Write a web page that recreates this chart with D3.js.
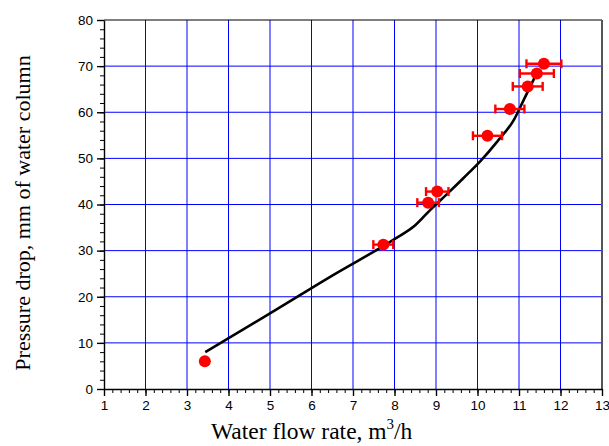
<!DOCTYPE html>
<html>
<head>
  <meta charset="UTF-8">
  <style>
    body { margin: 0; background: #fff; }
    .tick text { font-family: Arial, "Liberation Sans", sans-serif; font-size: 13.5px; fill: #000; }
  </style>
</head>
<body>
  <svg></svg>

<script src="https://d3js.org/d3.v7.min.js"></script>
<script>

    let width = 609;
    let height = 446;

    // measured points (flow rate, pressure drop, x error)
    let flowRate = [3.43, 7.73, 8.81, 9.03, 10.24, 10.78, 11.21, 11.43, 11.60];
    let pressureDrop = [6.0, 31.3, 40.4, 42.8, 54.9, 60.7, 65.6, 68.4, 70.5];
    let flowError = [0, 0.24, 0.26, 0.27, 0.35, 0.35, 0.36, 0.41, 0.42];

    // calculated curve
    let curveX = [3.44, 5.0, 6.5, 8.0, 8.5, 8.87, 9.27, 9.67, 10.07, 10.48, 10.88, 11.12, 11.43];
    let curveY = [8.0, 16.4, 24.6, 32.5, 35.5, 38.9, 42.3, 45.8, 49.4, 53.7, 58.4, 62.8, 68.5];

    let xTicks = [1, 2, 3, 4, 5, 6, 7, 8, 9, 10, 11, 12, 13];
    let yTicks = [0, 10, 20, 30, 40, 50, 60, 70, 80];

    let margin = {left: 104, right: 7, top: 20, bottom: 57};

    let svg = d3.select("svg")
        .attr("width", width)
        .attr("height", height);

    let x = d3.scaleLinear().domain([1, 13]).range([margin.left, width - margin.right]);
    let y = d3.scaleLinear().domain([0, 80]).range([height - margin.bottom, margin.top]);

    // grid
    svg.append("g")
      .selectAll("line")
      .data(xTicks.slice(1, -1))
      .enter()
      .append("line")
        .attr("x1", d => x(d)).attr("x2", d => x(d))
        .attr("y1", y(0)).attr("y2", y(80))
        .attr("stroke", "#0000ff").attr("stroke-width", 1);
    svg.append("g")
      .selectAll("line")
      .data(yTicks.slice(1, -1))
      .enter()
      .append("line")
        .attr("x1", x(1)).attr("x2", x(13))
        .attr("y1", d => y(d)).attr("y2", d => y(d))
        .attr("stroke", "#0000ff").attr("stroke-width", 1);

    // frame top and right
    svg.append("line")
      .attr("x1", x(1)).attr("x2", x(13)).attr("y1", y(80)).attr("y2", y(80))
      .attr("stroke", "#000").attr("stroke-width", 1.2);
    svg.append("line")
      .attr("x1", x(13)).attr("x2", x(13)).attr("y1", y(80)).attr("y2", y(0))
      .attr("stroke", "#555").attr("stroke-width", 2);

    // minor ticks
    let xMinor = d3.range(1, 13.001, 0.2);
    let yMinor = d3.range(0, 80.001, 2);
    svg.append("g")
      .attr("transform", `translate(0,${y(0)})`)
      .call(d3.axisBottom(x).tickValues(xMinor).tickSize(4).tickFormat(""))
      .call(g => g.select(".domain").remove());
    svg.append("g")
      .attr("transform", `translate(${x(1)},0)`)
      .call(d3.axisLeft(y).tickValues(yMinor).tickSize(4).tickFormat(""))
      .call(g => g.select(".domain").remove());

    // major axes
    svg.append("g")
      .attr("transform", `translate(0,${y(0)})`)
      .call(d3.axisBottom(x).tickValues(xTicks).tickSize(7).tickSizeOuter(0).tickPadding(4).tickFormat(d3.format("d")))
      .call(g => g.selectAll("line, path").attr("stroke-width", 1.4));
    svg.append("g")
      .attr("transform", `translate(${x(1)},0)`)
      .call(d3.axisLeft(y).tickValues(yTicks).tickSize(7).tickSizeOuter(0).tickPadding(4).tickFormat(d3.format("d")))
      .call(g => g.selectAll("line, path").attr("stroke-width", 1.4));

    // curve
    let curveData = curveX.map((d, i) => ({x: d, y: curveY[i]}));
    svg.append("path")
      .datum(curveData)
      .attr("fill", "none")
      .attr("stroke", "#000")
      .attr("stroke-width", 2.6)
      .attr("d", d3.line().x(d => x(d.x)).y(d => y(d.y)).curve(d3.curveMonotoneX));

    // points with error bars
    let points = flowRate.map((d, i) => ({x: d, y: pressureDrop[i], e: flowError[i]}));
    let pg = svg.append("g")
      .selectAll("g")
      .data(points)
      .enter()
      .append("g")
        .attr("stroke", "#ff0000")
        .attr("stroke-width", 2.4);
    pg.filter(d => d.e > 0).each(function(d) {
      let g = d3.select(this);
      g.append("line")
        .attr("x1", x(d.x - d.e)).attr("x2", x(d.x + d.e))
        .attr("y1", y(d.y)).attr("y2", y(d.y));
      g.append("line")
        .attr("x1", x(d.x - d.e)).attr("x2", x(d.x - d.e))
        .attr("y1", y(d.y) - 4.5).attr("y2", y(d.y) + 4.5);
      g.append("line")
        .attr("x1", x(d.x + d.e)).attr("x2", x(d.x + d.e))
        .attr("y1", y(d.y) - 4.5).attr("y2", y(d.y) + 4.5);
    });
    pg.append("circle")
      .attr("cx", d => x(d.x)).attr("cy", d => y(d.y))
      .attr("r", 6)
      .attr("fill", "#ff0000")
      .attr("stroke", "none");

    // axis titles
    let xt = svg.append("text")
      .attr("x", 211)
      .attr("y", 439)
      .attr("text-anchor", "start")
      .style("font-family", "'Times New Roman', 'Liberation Serif', serif")
      .style("font-size", "23.5px");
    xt.append("tspan").text("Water flow rate, m");
    xt.append("tspan").text("3").attr("dy", -10).style("font-size", "15px");
    xt.append("tspan").text("/h").attr("dy", 10);

    svg.append("text")
      .attr("transform", "translate(30,213) rotate(-90)")
      .attr("text-anchor", "middle")
      .style("font-family", "'Times New Roman', 'Liberation Serif', serif")
      .style("font-size", "22px")
      .text("Pressure drop, mm of water column");

</script>
</body>
</html>
